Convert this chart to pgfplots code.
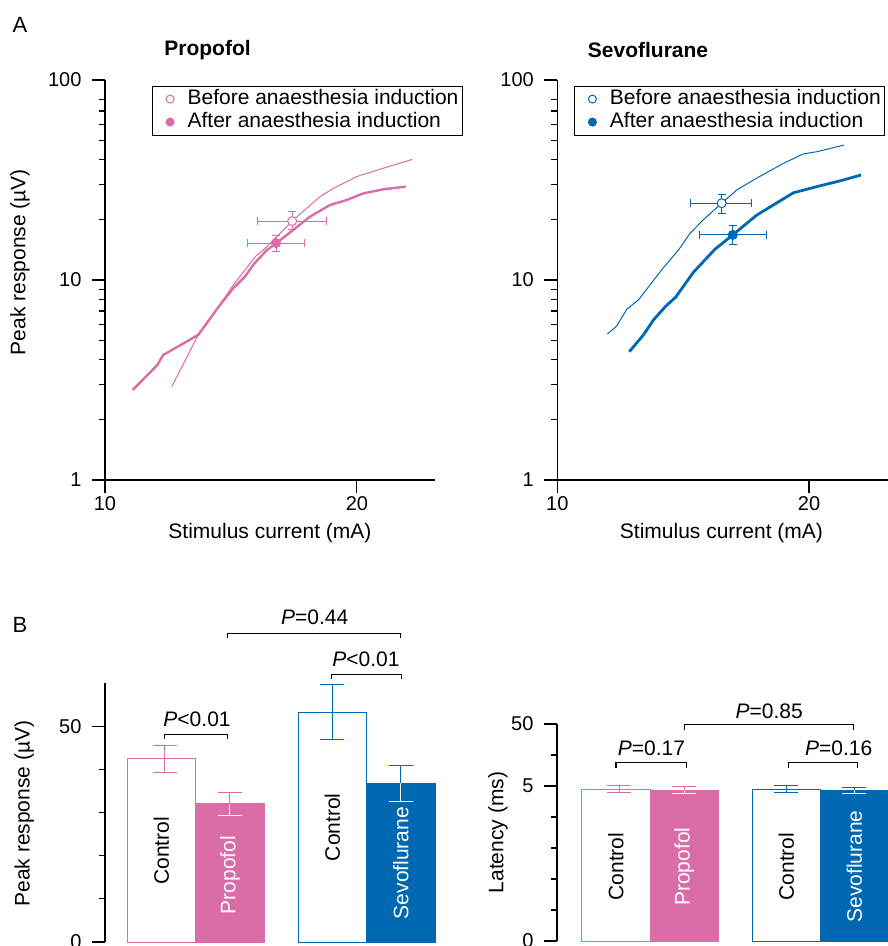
\documentclass[border=0pt]{standalone}
\usepackage{fontspec}
\setmainfont{Liberation Sans}
\usepackage{pgfplots}
\pgfplotsset{compat=1.18}
\definecolor{pk}{RGB}{218,108,168}
\definecolor{bl}{RGB}{0,103,177}
\pgfplotsset{
  every axis/.append style={font=\fontsize{21}{25}\selectfont, scale only axis,
    /pgf/number format/assume math mode=true},
  tick label style={font=\fontsize{20}{24}\selectfont},
  mystyle/.style={axis line style={-, line width=1.1pt}, tick style={black, line width=1.1pt},
    tick align=outside, major tick length=13pt, minor tick length=6pt,
    yticklabel style={xshift=-7pt}},
  toplegend/.style={legend style={draw=black, line width=0.8pt, inner xsep=2pt, inner ysep=1.5pt,
    font=\fontsize{21}{25}\selectfont, cells={anchor=west},
    nodes={inner sep=1.5pt, text height=15pt, text depth=5pt}}},
}
\begin{document}
\begin{tikzpicture}
\useasboundingbox (0pt,0pt) rectangle (888pt,-946pt);
% ---------- A: Propofol ----------
\begin{axis}[at={(105pt,-480pt)}, anchor=south west, width=330pt, height=400pt,
  axis lines=left, mystyle, clip=false,
  xmin=10, xmax=23.1, ymin=1, ymax=100, ymode=log,
  xtick={10,20}, ytick={1,10,100}, yticklabels={1,10,100},
  minor ytick={2,3,4,5,6,7,8,9,20,30,40,50,60,70,80},
  xlabel={Stimulus current (mA)}, ylabel={Peak response (µV)},
  xlabel style={at={(axis description cs:0.5,-0.1325)}, anchor=center},
  ylabel style={at={(axis description cs:-0.258,0.545)}, anchor=center},
  toplegend, legend style={at={(0.1415,0.9858)}, anchor=north west}]
\addlegendimage{legend image code/.code={\path[draw=none, fill=none] (0pt,-1pt) rectangle (32pt,1pt); \draw[pk, fill=white, line width=1pt] (16pt,0pt) circle (4pt);}}
\addlegendentry{Before anaesthesia induction}
\addlegendimage{legend image code/.code={\path[draw=none, fill=none] (0pt,-1pt) rectangle (32pt,1pt); \draw[pk, fill=pk, line width=1pt] (16pt,0pt) circle (4pt);}}
\addlegendentry{After anaesthesia induction}
\addplot[pk, line width=1pt, forget plot] coordinates {
(12.65,2.93) (13.70,5.31) (14.56,7.5) (15.09,9.44) (16.02,13.3) (16.28,14.1) (17.43,19.7)
(18.53,26.1) (19.06,28.7) (19.99,32.9) (21.04,36.2) (22.2,40.1)};
\addplot[pk, line width=2.4pt, forget plot] coordinates {
(11.10,2.82) (12.08,3.76) (12.31,4.22) (13.70,5.31) (14.56,7.50) (15.09,9.09) (15.56,10.4)
(15.88,11.9) (16.42,14.1) (16.81,15.3) (17.47,17.8) (18.13,20.7) (18.93,23.7) (19.59,25.1)
(20.25,27.1) (21.04,28.4) (21.94,29.3)};
\addplot[only marks, mark=*, mark size=4.5pt, mark options={draw=pk, fill=white, line width=1pt}, forget plot,
  error bars/.cd, x dir=both, y dir=both, x explicit, y explicit,
  error bar style={pk, line width=1pt}, error mark options={rotate=90, pk, mark size=4pt, line width=1pt}]
  coordinates {(17.43,19.7) += (1.37,2.26) -= (1.37,1.9)};
\addplot[only marks, mark=*, mark size=4.5pt, mark options={draw=pk, fill=pk, line width=1pt}, forget plot,
  error bars/.cd, x dir=both, y dir=both, x explicit, y explicit,
  error bar style={pk, line width=1pt}, error mark options={rotate=90, pk, mark size=4pt, line width=1pt}]
  coordinates {(16.79,15.3) += (1.12,1.35) -= (1.13,1.45)};
\end{axis}
% ---------- A: Sevoflurane ----------
\begin{axis}[at={(557.3pt,-480pt)}, anchor=south west, width=331pt, height=400pt,
  axis lines=left, mystyle, clip=false,
  xmin=10, xmax=23.15, ymin=1, ymax=100, ymode=log,
  xtick={10,20}, ytick={1,10,100}, yticklabels={1,10,100},
  minor ytick={2,3,4,5,6,7,8,9,20,30,40,50,60,70,80},
  xlabel={Stimulus current (mA)},
  xlabel style={at={(axis description cs:0.496,-0.1325)}, anchor=center},
  toplegend, legend style={at={(0.0505,0.9858)}, anchor=north west}]
\addlegendimage{legend image code/.code={\path[draw=none, fill=none] (0pt,-1pt) rectangle (32pt,1pt); \draw[bl, fill=white, line width=1pt] (16pt,0pt) circle (4pt);}}
\addlegendentry{Before anaesthesia induction}
\addlegendimage{legend image code/.code={\path[draw=none, fill=none] (0pt,-1pt) rectangle (32pt,1pt); \draw[bl, fill=bl, line width=1pt] (16pt,0pt) circle (4pt);}}
\addlegendentry{After anaesthesia induction}
\addplot[bl, line width=1pt, forget plot] coordinates {
(11.99,5.37) (12.36,5.89) (12.76,7.14) (13.22,7.94) (13.68,9.44) (14.21,11.5) (14.81,14.1)
(15.27,17.1) (15.80,20.0) (16.53,24.2) (17.13,28.2) (17.92,32.3) (18.98,38.3) (19.77,42.7)
(20.31,43.8) (21.40,47.3)};
\addplot[bl, line width=2.8pt, forget plot] coordinates {
(12.86,4.38) (13.42,5.31) (13.82,6.31) (14.29,7.36) (14.70,8.2) (15.40,10.9) (16.25,14.2)
(16.97,16.8) (17.92,21.1) (18.58,23.7) (19.38,27.3) (20.31,29.3) (21.23,31.3) (22.07,33.5)};
\addplot[only marks, mark=*, mark size=4.5pt, mark options={draw=bl, fill=white, line width=1pt}, forget plot,
  error bars/.cd, x dir=both, y dir=both, x explicit, y explicit,
  error bar style={bl, line width=1pt}, error mark options={rotate=90, bl, mark size=4pt, line width=1pt}]
  coordinates {(16.53,24.2) += (1.18,2.6) -= (1.23,2.6)};
\addplot[only marks, mark=*, mark size=4.5pt, mark options={draw=bl, fill=bl, line width=1pt}, forget plot,
  error bars/.cd, x dir=both, y dir=both, x explicit, y explicit,
  error bar style={bl, line width=1pt}, error mark options={rotate=90, bl, mark size=4pt, line width=1pt}]
  coordinates {(16.97,16.8) += (1.35,2.0) -= (1.34,1.7)};
\end{axis}
% ---------- B: Peak response ----------
\begin{axis}[at={(105pt,-942pt)}, anchor=south west, width=330pt, height=259pt,
  axis y line=left, axis x line=none, mystyle, clip=false,
  xmin=0.174, xmax=5, ymin=0, ymax=60,
  ytick={0,50}, minor ytick={10,20,30,40},
  ylabel={Peak response (µV)},
  ylabel style={at={(axis description cs:-0.245,0.496)}, anchor=center}]
\addplot[ybar, bar width=1, bar shift=0pt, fill=white, draw=pk, line width=1pt] coordinates {(1,42.4)};
\addplot[ybar, bar width=1, bar shift=0pt, fill=pk, draw=pk, line width=1pt] coordinates {(2,32.0)};
\addplot[ybar, bar width=1, bar shift=0pt, fill=white, draw=bl, line width=1pt] coordinates {(3.5,53.2)};
\addplot[ybar, bar width=1, bar shift=0pt, fill=bl, draw=bl, line width=1pt] coordinates {(4.5,36.8)};
% error bars
\addplot[draw=none, mark=none, forget plot, error bars/.cd, y dir=both, y explicit,
  error bar style={draw=pk, line width=1pt}, error mark options={rotate=90, draw=pk, mark size=12pt, line width=1pt}]
  coordinates {(1.05,42.4) +- (0,3.1)};
\addplot[draw=none, mark=none, forget plot, error bars/.cd, y dir=plus, y explicit,
  error bar style={draw=pk, line width=1pt}, error mark options={rotate=90, draw=pk, mark size=12pt, line width=1pt}]
  coordinates {(2,32.0) +- (0,2.65)};
\addplot[draw=none, mark=none, forget plot, error bars/.cd, y dir=minus, y explicit,
  error bar style={draw=white, line width=1pt}, error mark options={rotate=90, draw=white, mark size=12pt, line width=1pt}]
  coordinates {(2,32.0) +- (0,2.65)};
\addplot[draw=none, mark=none, forget plot, error bars/.cd, y dir=both, y explicit,
  error bar style={draw=bl, line width=1pt}, error mark options={rotate=90, draw=bl, mark size=12pt, line width=1pt}]
  coordinates {(3.5,53.2) +- (0,6.35)};
\addplot[draw=none, mark=none, forget plot, error bars/.cd, y dir=plus, y explicit,
  error bar style={draw=bl, line width=1pt}, error mark options={rotate=90, draw=bl, mark size=12pt, line width=1pt}]
  coordinates {(4.5,36.8) +- (0,4.15)};
\addplot[draw=none, mark=none, forget plot, error bars/.cd, y dir=minus, y explicit,
  error bar style={draw=white, line width=1pt}, error mark options={rotate=90, draw=white, mark size=12pt, line width=1pt}]
  coordinates {(4.5,36.8) +- (0,4.15)};
% brackets
\addplot[black, line width=1.1pt, forget plot] coordinates {(1.05,47.0) (1.05,48.1) (1.96,48.1) (1.96,47.0)};
\addplot[black, line width=1.1pt, forget plot] coordinates {(1.97,70.4) (1.97,71.5) (4.5,71.5) (4.5,70.4)};
\addplot[black, line width=1.1pt, forget plot] coordinates {(3.49,61.0) (3.49,62.0) (4.51,62.0) (4.51,61.0)};
\node at (axis cs:1.52,51.6) {\textit{P}<0.01};
\node at (axis cs:3.24,75.2) {\textit{P}=0.44};
\node at (axis cs:3.99,65.5) {\textit{P}<0.01};
\node[rotate=90] at (axis cs:1,21.1) {Control};
\node[rotate=90, text=white] at (axis cs:2,15.5) {Propofol};
\node[rotate=90] at (axis cs:3.5,26.6) {Control};
\node[rotate=90, text=white] at (axis cs:4.5,18.3) {Sevoflurane};
\end{axis}
% ---------- B: Latency ----------
\begin{axis}[at={(557pt,-941pt)}, anchor=south west, width=331.4pt, height=217pt,
  axis y line=left, axis x line=none, mystyle, clip=false,
  xmin=0.134, xmax=5, ymin=0, ymax=7,
  ytick={0,5,7}, yticklabels={0,5,50}, minor ytick={1,2,3,4,6},
  ylabel={Latency (ms)},
  ylabel style={at={(axis description cs:-0.178,0.50)}, anchor=center}]
\addplot[ybar, bar width=1, bar shift=0pt, fill=white, draw=pk, line width=1pt] coordinates {(1,4.90)};
\addplot[ybar, bar width=1, bar shift=0pt, fill=pk, draw=pk, line width=1pt] coordinates {(2,4.87)};
\addplot[ybar, bar width=1, bar shift=0pt, fill=white, draw=bl, line width=1pt] coordinates {(3.5,4.90)};
\addplot[ybar, bar width=1, bar shift=0pt, fill=bl, draw=bl, line width=1pt] coordinates {(4.5,4.86)};
\addplot[draw=none, mark=none, forget plot, error bars/.cd, y dir=both, y explicit,
  error bar style={draw=pk, line width=1pt}, error mark options={rotate=90, draw=pk, mark size=12pt, line width=1pt}]
  coordinates {(1.05,4.90) +- (0,0.11)};
\addplot[draw=none, mark=none, forget plot, error bars/.cd, y dir=plus, y explicit,
  error bar style={draw=pk, line width=1pt}, error mark options={rotate=90, draw=pk, mark size=12pt, line width=1pt}]
  coordinates {(2,4.87) +- (0,0.10)};
\addplot[draw=none, mark=none, forget plot, error bars/.cd, y dir=minus, y explicit,
  error bar style={draw=white, line width=1pt}, error mark options={rotate=90, draw=white, mark size=12pt, line width=1pt}]
  coordinates {(2,4.87) +- (0,0.10)};
\addplot[draw=none, mark=none, forget plot, error bars/.cd, y dir=both, y explicit,
  error bar style={draw=bl, line width=1pt}, error mark options={rotate=90, draw=bl, mark size=12pt, line width=1pt}]
  coordinates {(3.5,4.90) +- (0,0.11)};
\addplot[draw=none, mark=none, forget plot, error bars/.cd, y dir=plus, y explicit,
  error bar style={draw=bl, line width=1pt}, error mark options={rotate=90, draw=bl, mark size=12pt, line width=1pt}]
  coordinates {(4.5,4.86) +- (0,0.10)};
\addplot[draw=none, mark=none, forget plot, error bars/.cd, y dir=minus, y explicit,
  error bar style={draw=white, line width=1pt}, error mark options={rotate=90, draw=white, mark size=12pt, line width=1pt}]
  coordinates {(4.5,4.86) +- (0,0.10)};
\addplot[black, line width=1.1pt, forget plot] coordinates {(1.0,5.58) (1.0,5.77) (2.03,5.77) (2.03,5.58)};
\addplot[black, line width=1.1pt, forget plot] coordinates {(2.01,6.81) (2.01,6.97) (4.49,6.97) (4.49,6.81)};
\addplot[black, line width=1.1pt, forget plot] coordinates {(3.53,5.58) (3.53,5.77) (4.55,5.77) (4.55,5.58)};
\node at (axis cs:1.52,6.23) {\textit{P}=0.17};
\node at (axis cs:3.25,7.42) {\textit{P}=0.85};
\node at (axis cs:4.27,6.23) {\textit{P}=0.16};
\node[rotate=90] at (axis cs:1,2.4) {Control};
\node[rotate=90, text=white] at (axis cs:2,2.4) {Propofol};
\node[rotate=90] at (axis cs:3.5,2.4) {Control};
\node[rotate=90, text=white] at (axis cs:4.5,2.4) {Sevoflurane};
\end{axis}
% panel letters and titles
\node[font=\fontsize{22}{26}\selectfont] at (20pt,-25pt) {A};
\node[font=\fontsize{22}{26}\selectfont] at (20pt,-625pt) {B};
\node[font=\fontsize{21}{25}\selectfont\bfseries] at (207.5pt,-50pt) {Propofol};
\node[font=\fontsize{21}{25}\selectfont\bfseries] at (648pt,-50pt) {Sevoflurane};
\end{tikzpicture}
\end{document}
